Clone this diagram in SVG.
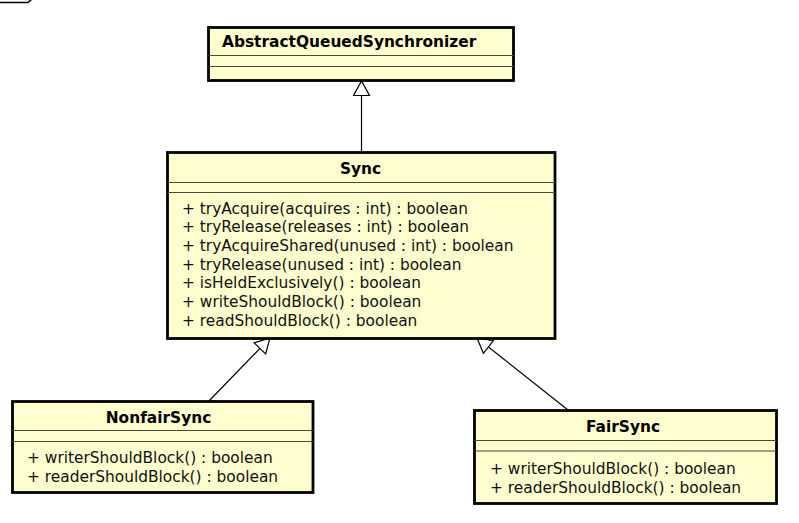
<svg xmlns="http://www.w3.org/2000/svg" width="799" height="523" viewBox="0 0 799 523">
<style>
  .box { fill: #FEFECE; stroke: #000; stroke-width: 2.8; }
  .sep { stroke: #4a4a3a; stroke-width: 1.2; fill: none; }
  .title { font-family: "DejaVu Sans", sans-serif; font-size: 15.4px; font-weight: bold; fill: #000; }
  .member { font-family: "DejaVu Sans", sans-serif; font-size: 15.4px; fill: #111; }
  .edge { stroke: #000; stroke-width: 1.2; fill: none; }
</style>
<defs>
  <marker id="gen" viewBox="-16 -10 18 20" markerWidth="18" markerHeight="20" refX="0" refY="0" orient="auto" markerUnits="userSpaceOnUse">
    <path d="M0,0 L-14.5,-8 L-14.5,8 Z" fill="#fff" stroke="#000" stroke-width="1.2" stroke-linejoin="miter"/>
  </marker>
</defs>

<polyline points="0,2.5 28,2.5 32,-1" fill="none" stroke="#000" stroke-width="1.5"/>

<g id="connectors">
  <line class="edge" x1="361.5" y1="152" x2="361.5" y2="81" marker-end="url(#gen)"/>
  <line class="edge" x1="209" y1="401" x2="270" y2="338" marker-end="url(#gen)"/>
  <line class="edge" x1="568" y1="410" x2="477" y2="338" marker-end="url(#gen)"/>
</g>

<g id="AbstractQueuedSynchronizer">
  <rect class="box" x="208.5" y="27.5" width="305" height="53"/>
  <line class="sep" x1="208.5" y1="55.5" x2="513.5" y2="55.5"/>
  <line class="sep" x1="208.5" y1="66.5" x2="513.5" y2="66.5"/>
  <text class="title" x="222" y="47">AbstractQueuedSynchronizer</text>
</g>

<g id="Sync">
  <rect class="box" x="167.5" y="152.5" width="387.5" height="186"/>
  <line class="sep" x1="167.5" y1="182.5" x2="555" y2="182.5"/>
  <line class="sep" x1="167.5" y1="192.5" x2="555" y2="192.5"/>
  <text class="title" x="360.5" y="174" text-anchor="middle">Sync</text>
  <text class="member" x="182" y="213.5">+ tryAcquire(acquires : int) : boolean</text>
  <text class="member" x="182" y="232.2">+ tryRelease(releases : int) : boolean</text>
  <text class="member" x="182" y="250.8">+ tryAcquireShared(unused : int) : boolean</text>
  <text class="member" x="182" y="269.5">+ tryRelease(unused : int) : boolean</text>
  <text class="member" x="182" y="288.2">+ isHeldExclusively() : boolean</text>
  <text class="member" x="182" y="306.8">+ writeShouldBlock() : boolean</text>
  <text class="member" x="182" y="325.5">+ readShouldBlock() : boolean</text>
</g>

<g id="NonfairSync">
  <rect class="box" x="12.5" y="401.5" width="300.5" height="91"/>
  <line class="sep" x1="12.5" y1="430.5" x2="313" y2="430.5"/>
  <line class="sep" x1="12.5" y1="441.5" x2="313" y2="441.5"/>
  <text class="title" x="158.5" y="423" text-anchor="middle">NonfairSync</text>
  <text class="member" x="27" y="463">+ writerShouldBlock() : boolean</text>
  <text class="member" x="27" y="482">+ readerShouldBlock() : boolean</text>
</g>

<g id="FairSync">
  <rect class="box" x="474.5" y="410.5" width="302" height="93"/>
  <line class="sep" x1="474.5" y1="440.5" x2="776.5" y2="440.5"/>
  <line class="sep" x1="474.5" y1="451" x2="776.5" y2="451"/>
  <text class="title" x="623" y="432" text-anchor="middle">FairSync</text>
  <text class="member" x="490" y="473.5">+ writerShouldBlock() : boolean</text>
  <text class="member" x="490" y="492.5">+ readerShouldBlock() : boolean</text>
</g>
</svg>
